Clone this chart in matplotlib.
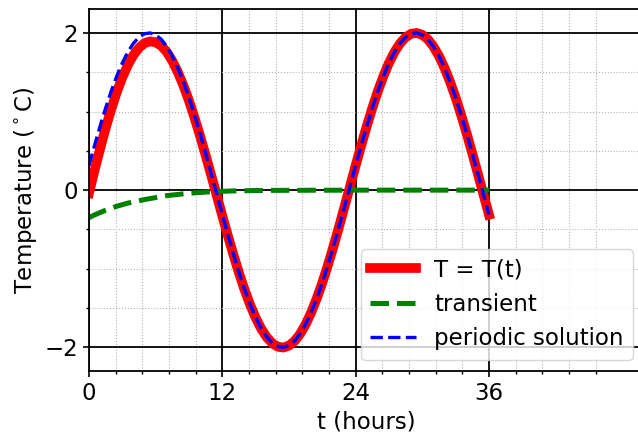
import numpy as np
from matplotlib import pyplot as plt
from matplotlib.ticker import FixedLocator, MultipleLocator

# time in hours, every half hour
t = np.arange(0, 36.5, 0.5)

# periodic solution
periodic = [0.313, 0.568, 0.813, 1.045, 1.259, 1.451, 1.618, 1.758, 1.867, 1.945,
            1.989, 1.999, 1.975, 1.918, 1.827, 1.705, 1.554, 1.377, 1.176, 0.954,
            0.717, 0.467, 0.209, -0.052, -0.313, -0.568, -0.813, -1.045, -1.259, -1.451,
            -1.618, -1.758, -1.867, -1.945, -1.989, -1.999, -1.975, -1.918, -1.827, -1.705,
            -1.554, -1.377, -1.176, -0.954, -0.717, -0.467, -0.209, 0.052, 0.313, 0.568,
            0.813, 1.045, 1.259, 1.451, 1.618, 1.758, 1.867, 1.945, 1.989, 1.999,
            1.975, 1.918, 1.827, 1.705, 1.554, 1.377, 1.176, 0.954, 0.717, 0.467,
            0.209, -0.052, -0.313]

# transient part
transient = [-0.35, -0.315, -0.285, -0.255, -0.23, -0.205, -0.185, -0.165, -0.15, -0.135,
             -0.12, -0.107, -0.095, -0.082, -0.07, -0.062, -0.055, -0.047, -0.04, -0.035,
             -0.03, -0.025, -0.02, -0.017, -0.015, -0.012, -0.01, -0.009, -0.008, -0.006,
             -0.005, -0.005, -0.004, -0.003, -0.003, -0.003, -0.002, -0.002, -0.002, -0.002,
             -0.001, -0.001, -0.001, -0.001, -0.001, -0.001, -0.001, -0.001, 0.0, 0.0,
             0.0, 0.0, 0.0, 0.0, 0.0, 0.0, 0.0, 0.0, 0.0, 0.0,
             0.0, 0.0, 0.0, 0.0, 0.0, 0.0, 0.0, 0.0, 0.0, 0.0,
             0.0, 0.0, 0.0]

# full temperature T = T(t)
temperature = [-0.037, 0.253, 0.528, 0.790, 1.029, 1.246, 1.433, 1.593, 1.717, 1.810,
               1.869, 1.892, 1.880, 1.836, 1.757, 1.643, 1.499, 1.330, 1.136, 0.919,
               0.687, 0.442, 0.189, -0.069, -0.328, -0.580, -0.823, -1.054, -1.267, -1.457,
               -1.623, -1.763, -1.871, -1.948, -1.992, -2.002, -1.977, -1.920, -1.829, -1.707,
               -1.555, -1.378, -1.177, -0.955, -0.718, -0.468, -0.210, 0.051, 0.313, 0.568,
               0.813, 1.045, 1.259, 1.451, 1.618, 1.758, 1.867, 1.945, 1.989, 1.999,
               1.975, 1.918, 1.827, 1.705, 1.554, 1.377, 1.176, 0.954, 0.717, 0.467,
               0.209, -0.052, -0.313]

xticks = [0, 12, 24, 36]
yticks = [-2, 0, 2]

plt.rcParams['font.size'] = 16.5

fig = plt.figure(figsize=(6.38, 4.34), dpi=100)
ax = fig.add_axes([0.1395, 0.1452, 0.8707, 0.8334])

ax.plot(t, temperature, 'r-', lw=7, solid_joinstyle='round', label="T = T(t)")
ax.plot(t, transient, 'g--', lw=3.6, label="transient")
ax.plot(t, periodic, 'b--', lw=2.4, label="periodic solution")

ax.set_xlim(0, 50)
ax.set_ylim(-2.3, 2.3)
ax.xaxis.set_major_locator(FixedLocator(xticks))
ax.yaxis.set_major_locator(FixedLocator(yticks))
ax.xaxis.set_minor_locator(FixedLocator(np.arange(1, 20) * 2.4))
ax.yaxis.set_minor_locator(MultipleLocator(0.5))

ax.grid(which='major', color='k', lw=1.3, ls='-')
ax.grid(which='minor', color='0.7', lw=0.8, ls=':')
ax.set_axisbelow(True)

ax.tick_params(which='major', direction='out', length=4.5, width=1.2)
ax.tick_params(which='minor', direction='out', length=2.5, width=1.0)
for s in ax.spines.values():
    s.set_linewidth(1.3)

ax.set_xlabel("t (hours)")
ax.set_ylabel(r"Temperature ($^\circ$C)")
ax.legend(loc='lower right')

fig.savefig("out.png", dpi=100)
